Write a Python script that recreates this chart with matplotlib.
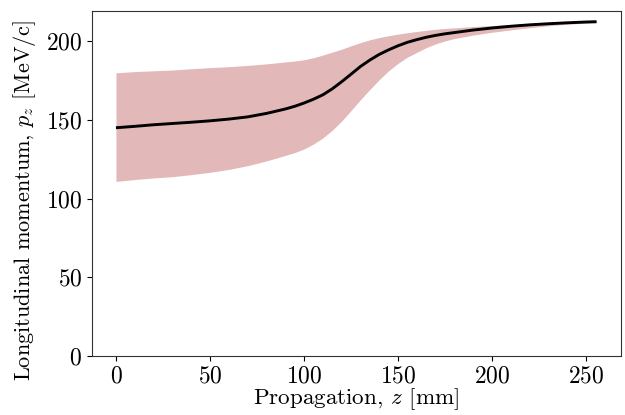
import matplotlib
matplotlib.use("Agg")
import matplotlib.pyplot as plt
import numpy as np

plt.rcParams['font.family'] = 'serif'
plt.rcParams['font.serif'] = ['cmr10']
plt.rcParams['mathtext.fontset'] = 'cm'
plt.rcParams['axes.formatter.use_mathtext'] = True
plt.rcParams['axes.unicode_minus'] = False

z = [0, 10, 20, 30, 40, 50, 60, 70, 80, 90, 95, 100, 105, 110, 115, 120, 125,
     130, 135, 140, 145, 150, 155, 160, 165, 170, 175, 180, 190, 200, 210, 220,
     230, 240, 250, 255.6]
pz_mean = [145.1, 146.0, 147.0, 147.8, 148.6, 149.5, 150.6, 152.0, 154.2, 157.0,
           158.7, 160.8, 163.2, 166.0, 169.8, 174.3, 179.1, 184.0, 188.1, 191.7,
           194.6, 197.2, 199.4, 201.1, 202.6, 203.8, 204.8, 205.6, 207.2,
           208.5, 209.6, 210.5, 211.2, 211.8, 212.3, 212.5]
pz_upper = [180.0, 180.8, 181.3, 181.8, 182.6, 183.3, 183.9, 184.7, 185.7, 186.9,
            187.5, 188.3, 189.6, 191.3, 193.1, 195.0, 197.2, 199.2, 201.0, 202.4,
            203.6, 204.6, 205.5, 206.3, 207.0, 207.7, 208.2, 208.6, 209.4,
            210.1, 210.7, 211.3, 211.8, 212.3, 212.7, 212.9]
pz_lower = [111.0, 112.2, 113.2, 114.0, 115.3, 116.8, 118.6, 121.0, 124.0, 127.5,
            129.3, 131.6, 134.7, 138.6, 143.5, 149.3, 156.0, 162.9, 169.4, 175.6,
            181.3, 186.0, 190.0, 193.0, 196.0, 198.4, 200.3, 201.8, 204.0,
            205.8, 207.3, 208.7, 209.9, 210.9, 211.6, 211.9]

fig = plt.figure(figsize=(6.25, 4.15), dpi=100)
ax = fig.add_axes([0.147, 0.142, 0.846, 0.8315])

ax.fill_between(z, pz_lower, pz_upper, color='#e2b8b9', linewidth=0)
ax.plot(z, pz_mean, color='black', linewidth=2.1, solid_capstyle='butt')

ax.set_xlim(-12.8, 268.4)
ax.set_ylim(0, 219.3)
ax.set_xticks([0, 50, 100, 150, 200, 250])
ax.set_yticks([0, 50, 100, 150, 200])
ax.tick_params(labelsize=17)
ax.set_xlabel(r'Propagation, $z$ [mm]', fontsize=16.6, labelpad=-1)
ax.set_ylabel(r'Longitudinal momentum, $p_z$ [MeV/c]', fontsize=16, labelpad=3)
ax.yaxis.set_label_coords(-0.102, 0.452)
for s in ax.spines.values():
    s.set_color('#333333')

fig.savefig('out.png', dpi=100)
